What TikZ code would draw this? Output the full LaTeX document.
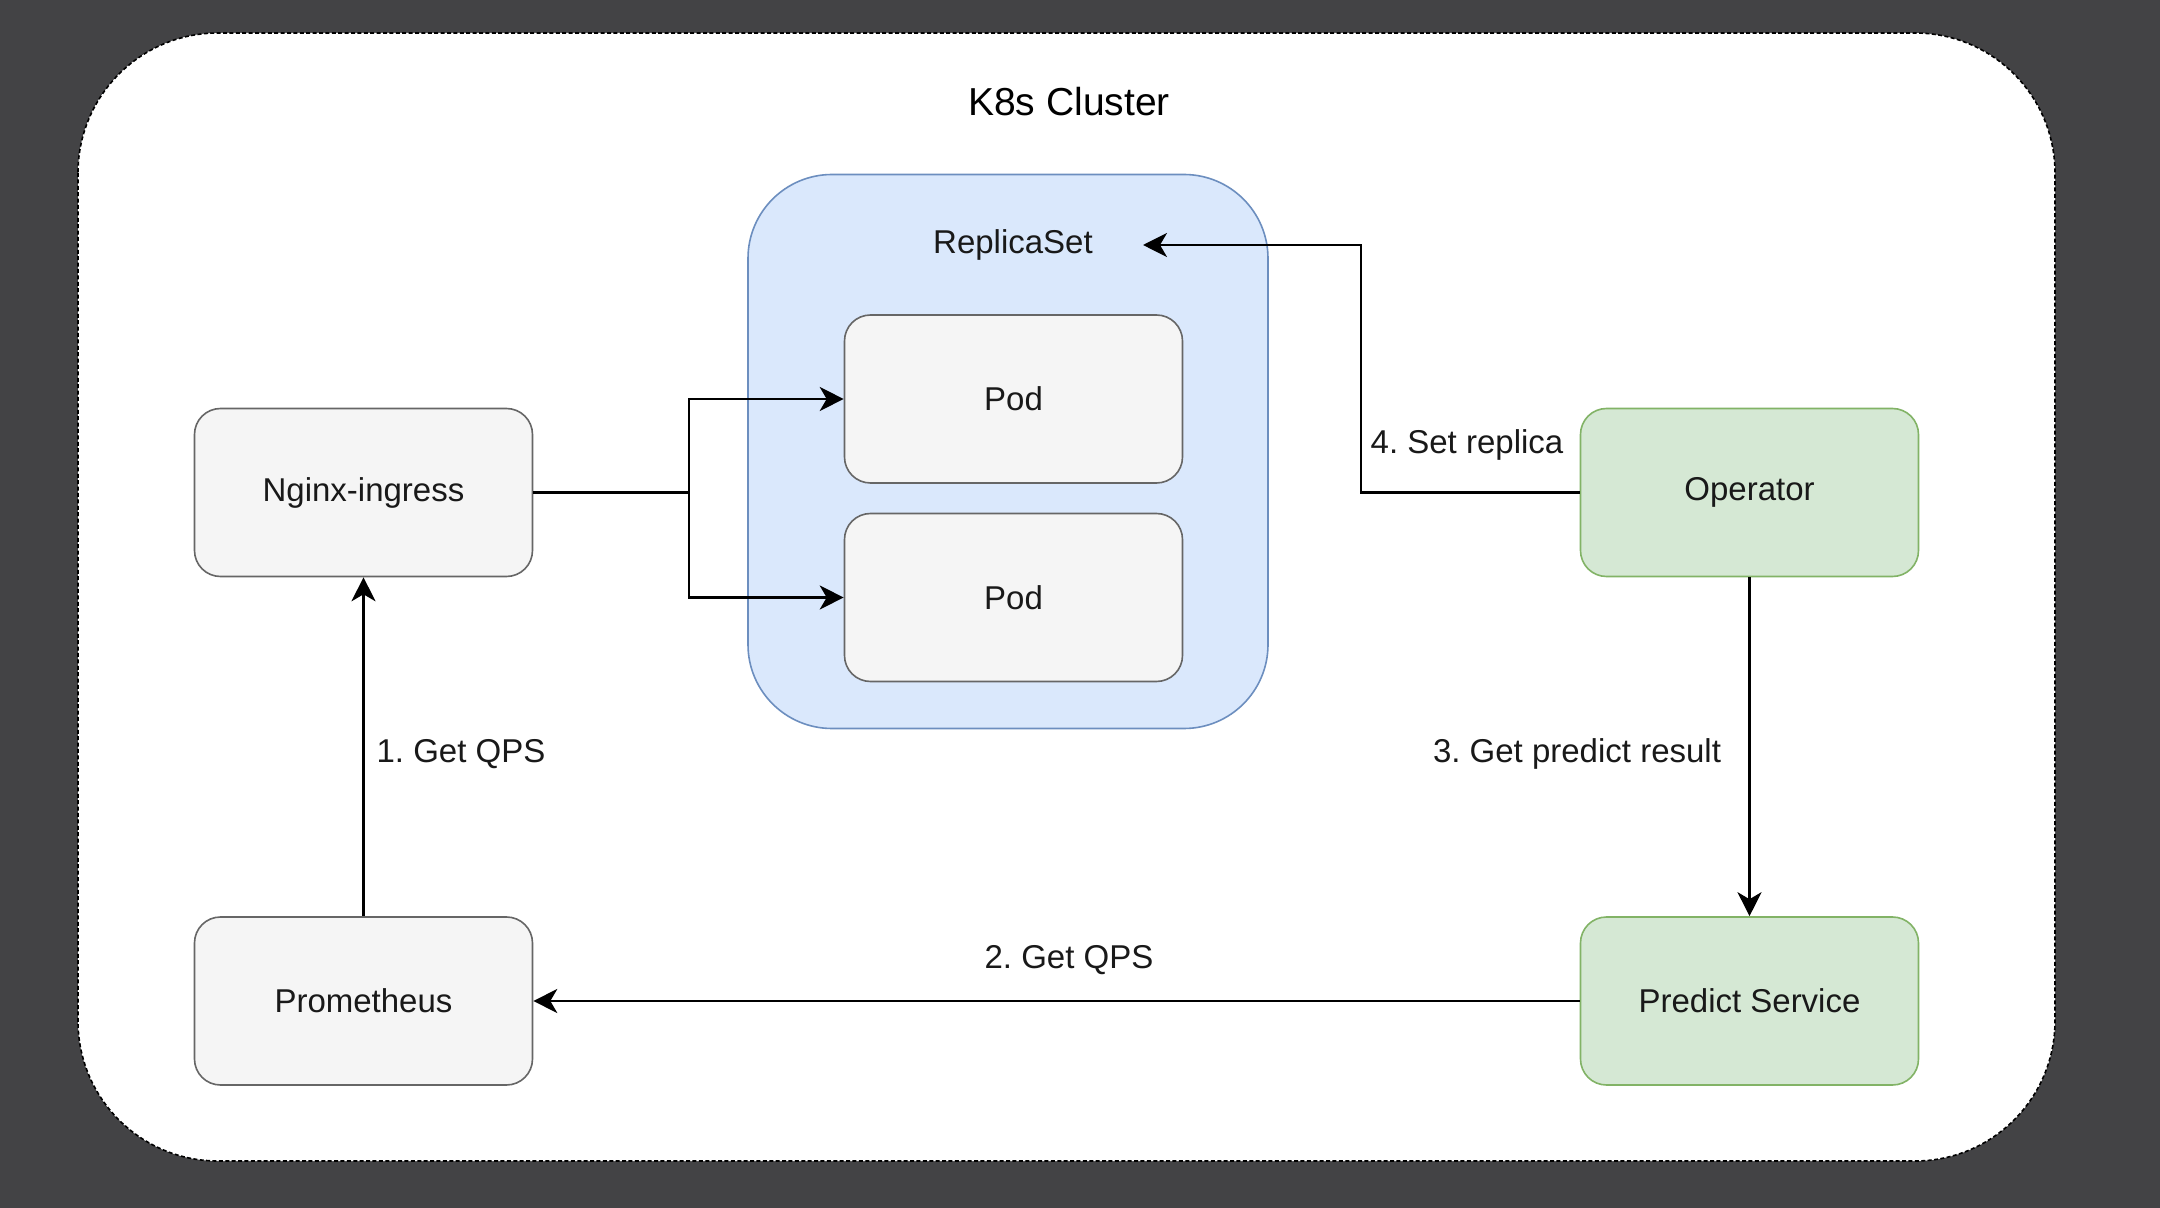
\documentclass[tikz,border=0pt]{standalone}
\usepackage{fontspec}
\setmainfont{Liberation Sans}
\usetikzlibrary{arrows.meta,positioning}
\frenchspacing

\definecolor{bggray}{HTML}{434345}
\definecolor{boxfill}{HTML}{F5F5F5}
\definecolor{boxline}{HTML}{666666}
\definecolor{greenfill}{HTML}{D5E8D4}
\definecolor{greenline}{HTML}{82B366}
\definecolor{bluefill}{HTML}{DAE8FC}
\definecolor{blueline}{HTML}{6C8EBF}

\tikzset{
  txt/.style={font=\fontsize{16.5}{20}\selectfont, text=black!90},
  box/.style={txt, draw=boxline, fill=boxfill, line width=0.8pt,
    rounded corners=13pt, minimum width=169pt, minimum height=84pt},
  greenbox/.style={box, draw=greenline, fill=greenfill},
  flow/.style={line width=1.1pt, black},
  arr/.style={flow, -{Stealth[length=12pt,width=12pt,inset=3.5pt]}},
}

\begin{document}
\begin{tikzpicture}[x=0.5pt,y=-0.5pt]
  % frame and cluster
  \fill[bggray] (0,0) rectangle (2160,1208);
  \draw[fill=white, dash pattern=on 2pt off 1.2pt, line width=0.8pt,
    rounded corners=70pt] (78,33) rectangle (2055,1161);
  \node[font=\fontsize{19.5}{24}\selectfont] (title) at (1069,102) {K8s Cluster};

  % replica set
  \node[draw=blueline, fill=bluefill, line width=0.8pt, rounded corners=42pt,
    minimum width=260pt, minimum height=277pt] (rs) at (1008,451.5) {};
  \node[txt] (rslabel) at (1013,245) {ReplicaSet};
  \node[box] (pod1) at (1013.5,399) {Pod};
  \node[box] (pod2) at (1013.5,597.5) {Pod};

  % services
  \node[box] (nginx) at (363.5,492.5) {Nginx-ingress};
  \node[box] (prom) at (363.5,1001) {Prometheus};
  \node[greenbox] (op) at (1749.5,492.5) {Operator};
  \node[greenbox] (pred) at (1749.5,1001) {Predict Service};

  % connectors
  \coordinate (split) at (689,492.5);
  \coordinate (bend) at (1361,245);
  \coordinate (rsin) at (1143,245);
  \draw[flow] (nginx.east) -- (split);
  \draw[arr] (split) |- (pod1.west);
  \draw[arr] (split) |- (pod2.west);
  \draw[arr] (op.west) -| (bend) -- (rsin);
  \draw[arr] (op.south) -- (pred.north);
  \draw[arr] (pred.west) -- (prom.east);
  \draw[arr] (prom.north) -- (nginx.south);

  \node[txt] (l4) at (1467,445) {4. Set replica};
  \node[txt] (l3) at (1577,754) {3. Get predict result};
  \node[txt] (l2) at (1069,960) {2. Get QPS};
  \node[txt] (l1) at (461,754) {1. Get QPS};
\end{tikzpicture}
\end{document}
